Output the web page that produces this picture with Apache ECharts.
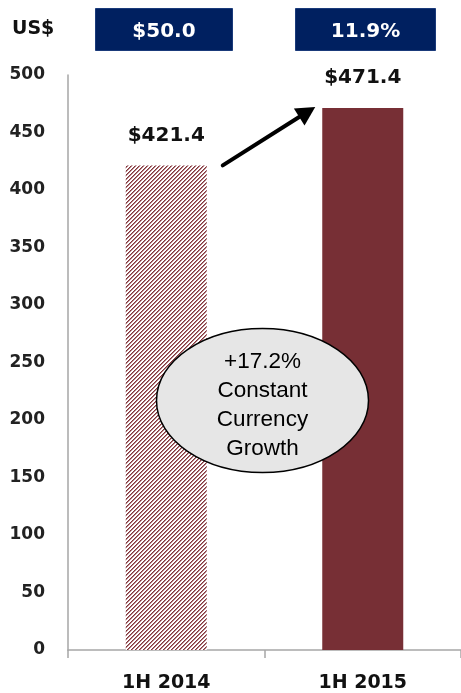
<!DOCTYPE html>
<html>
<head>
<meta charset="utf-8">
<script src="https://cdn.jsdelivr.net/npm/echarts@6/dist/echarts.min.js"></script>
<style>
  html, body { margin: 0; padding: 0; background: #fff; }
  #chart { width: 461px; height: 693px; }
</style>
</head>
<body>
<div id="chart"></div>
<script>
// Half-year revenue, US$ millions
const periods = ['1H 2014', '1H 2015'];
const revenue = [421.4, 471.4];
const yTicks = { min: 0, max: 500, step: 50 };
const headerBoxes = ['$50.0', '11.9%'];
const bubbleLines = ['+17.2%', 'Constant', 'Currency', 'Growth'];

const MAROON = '#772f35';
const NAVY = '#002060';
const BOLD_FONT = '"DejaVu Sans", sans-serif';

// Diagonal hatch tile for the earlier period
function hatchTile() {
  const n = 4;
  const c = document.createElement('canvas');
  c.width = n; c.height = n;
  const ctx = c.getContext('2d');
  ctx.fillStyle = '#ffffff';
  ctx.fillRect(0, 0, n, n);
  for (let x = 0; x < n; x++) {
    for (let y = 0; y < n; y++) {
      const k = (x + y) % n;
      if (k === 0) { ctx.fillStyle = '#82363c'; ctx.fillRect(x, y, 1, 1); }
      else if (k === 1) { ctx.fillStyle = '#b37f83'; ctx.fillRect(x, y, 1, 1); }
    }
  }
  return c;
}

const chart = echarts.init(document.getElementById('chart'), null, { renderer: 'canvas' });

const barData = revenue.map((v, i) => ({
  value: v,
  itemStyle: i === 0
    ? { color: { image: hatchTile(), repeat: 'repeat' } }
    : { color: MAROON }
}));

const option = {
  animation: false,
  backgroundColor: '#ffffff',
  grid: { left: 68, right: 0, top: 75, bottom: 41 },
  xAxis: {
    type: 'category',
    data: periods,
    axisLine: { lineStyle: { color: '#a6a6a6', width: 1.5 } },
    axisTick: { show: true, length: 8, lineStyle: { color: '#a6a6a6', width: 1.5 } },
    axisLabel: {
      color: '#111', fontFamily: BOLD_FONT, fontWeight: 'bold', fontSize: 19, margin: 24
    }
  },
  yAxis: {
    type: 'value',
    min: yTicks.min, max: yTicks.max, interval: yTicks.step,
    axisLine: { show: true, lineStyle: { color: '#a6a6a6', width: 1.5 } },
    axisTick: { show: false },
    splitLine: { show: false },
    axisLabel: {
      color: '#222', fontFamily: BOLD_FONT, fontWeight: 'bold', fontSize: 17, margin: 23
    }
  },
  series: [{
    type: 'bar',
    data: barData,
    barWidth: 81,
    label: {
      show: true,
      position: 'top',
      distance: 20,
      formatter: p => '$' + p.value.toFixed(1),
      color: '#111', fontFamily: BOLD_FONT, fontWeight: 'bold', fontSize: 20
    }
  }]
};

chart.setOption(option);

// Annotations placed from the axis scales
const p0 = chart.convertToPixel({ gridIndex: 0 }, [0, revenue[0]]);
const p1 = chart.convertToPixel({ gridIndex: 0 }, [1, revenue[1]]);
const halfBar = 40.5;
const ax = p0[0] + halfBar + 16, ay = p0[1];
const bx = p1[0] - halfBar - 7, by = p1[1] - 1;
const ang = Math.atan2(by - ay, bx - ax);
const headLen = 19, headHalf = 10;
const baseX = bx - headLen * Math.cos(ang), baseY = by - headLen * Math.sin(ang);
const nx = -Math.sin(ang), ny = Math.cos(ang);

const mid = chart.convertToPixel({ gridIndex: 0 }, [0.5, 217]);
const boundaryX = (p0[0] + p1[0]) / 2;

chart.setOption({
  graphic: [
    {
      type: 'text', left: 12, top: 20, z: 10,
      style: { text: 'US$', font: 'bold 19px ' + BOLD_FONT, fill: '#111' }
    },
    {
      type: 'group', left: 95, top: 8, z: 10,
      children: [
        { type: 'rect', shape: { x: 0, y: 0, width: 137, height: 42 }, style: { fill: NAVY, stroke: '#1a3a7a', lineWidth: 1 } },
        { type: 'text', x: 68.5, y: 23, style: { text: headerBoxes[0], font: 'bold 20px ' + BOLD_FONT, fill: '#fff', align: 'center', verticalAlign: 'middle' } }
      ]
    },
    {
      type: 'group', left: 295, top: 8, z: 10,
      children: [
        { type: 'rect', shape: { x: 0, y: 0, width: 140, height: 42 }, style: { fill: NAVY, stroke: '#1a3a7a', lineWidth: 1 } },
        { type: 'text', x: 70, y: 23, style: { text: headerBoxes[1], font: 'bold 20px ' + BOLD_FONT, fill: '#fff', align: 'center', verticalAlign: 'middle' } }
      ]
    },
    {
      type: 'line', z: 10,
      shape: { x1: ax, y1: ay, x2: baseX, y2: baseY },
      style: { stroke: '#000', lineWidth: 4, lineCap: 'round' }
    },
    {
      type: 'polygon', z: 10,
      shape: { points: [[bx, by], [baseX + nx * headHalf, baseY + ny * headHalf], [baseX - nx * headHalf, baseY - ny * headHalf]] },
      style: { fill: '#000' }
    },
    {
      type: 'ellipse', z: 10,
      shape: { cx: boundaryX - 2, cy: mid[1], rx: 106, ry: 72 },
      style: { fill: '#e6e6e6', stroke: '#000', lineWidth: 1.5 }
    },
    {
      type: 'text', z: 11,
      x: boundaryX - 2, y: mid[1] + 5,
      style: {
        text: bubbleLines.join('\n'),
        font: '22.5px "Liberation Sans", Arial, sans-serif',
        lineHeight: 29, fill: '#000', align: 'center', verticalAlign: 'middle'
      }
    }
  ]
});
</script>
</body>
</html>
